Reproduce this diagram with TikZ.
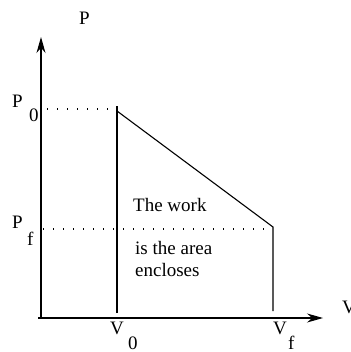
\documentclass[tikz,border=0pt]{standalone}
\usepackage{fontspec}
\setmainfont{Liberation Serif}
\usetikzlibrary{arrows.meta}
\begin{document}
\begin{tikzpicture}[x=1pt,y=-1pt,
  lbl/.style={anchor=base west,inner sep=0pt,font=\fontsize{19}{21}\selectfont},
  axis/.style={line width=1.1pt,-{Stealth[length=16pt,width=9pt]}},
  ln/.style={line width=1.1pt},
  dots/.style={line width=1.1pt,dash pattern=on 1.2pt off 8.8pt}]
\useasboundingbox (0,0) rectangle (350,352);
% coordinates
\coordinate (o) at (41,318);
\coordinate (ytop) at (41,37);
\coordinate (xl) at (38,318);
\coordinate (xr) at (323,318);
\coordinate (a) at (117,106);
\coordinate (a1) at (117,111);
\coordinate (ab) at (117,313);
\coordinate (b) at (273,227);
\coordinate (bb) at (273,311);
\coordinate (d0l) at (47,109);
\coordinate (d0r) at (108,109);
\coordinate (dfl) at (43,229);
\coordinate (dfr) at (271,229);
% axes
\draw[axis] (o) -- (ytop);
\draw[axis] (xl) -- (xr);
% process
\draw[ln] (ab) -- (a);
\draw[ln] (a1) -- (b) -- (bb);
\draw[dots] (d0l) -- (d0r);
\draw[dots] (dfl) -- (dfr);
% labels
\node[lbl] (P) at (79,25) {P};
\node[lbl] (P0) at (12,108) {P};
\node[lbl] (P0s) at (29,122) {0};
\node[lbl] (Pf) at (12,228) {P};
\node[lbl] (Pfs) at (27,245) {f};
\node[lbl] (V0) at (110,334) {V};
\node[lbl] (V0s) at (128,349) {0};
\node[lbl] (Vf) at (273,334) {V};
\node[lbl] (Vfs) at (288,349) {f};
\node[lbl] (V) at (342,313) {V};
\node[lbl] (t1) at (133,211) {The work};
\node[lbl] (t2) at (135,254) {is the area};
\node[lbl] (t3) at (135,276) {encloses};
\end{tikzpicture}
\end{document}
